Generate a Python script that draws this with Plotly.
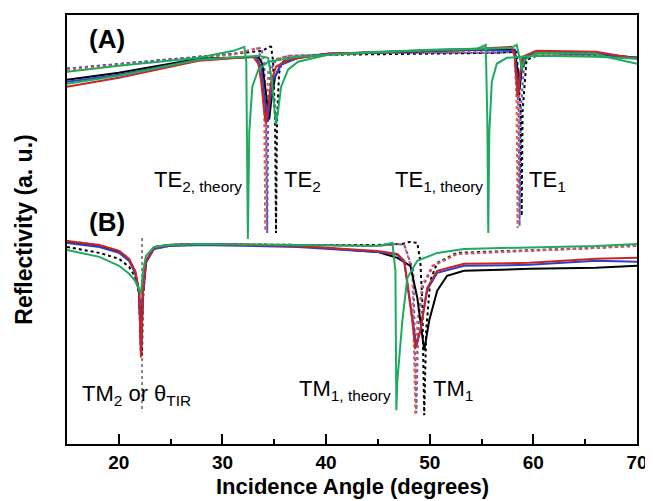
import plotly.graph_objects as go

# ---------------- Panel (A): TE modes ----------------
A_GREEN_THEORY_X = [15, 20, 27.7, 31.06, 32.11, 32.30, 32.45, 32.59, 32.88, 33.46, 34.41, 37.29, 44.96, 54.55, 55.41, 55.56, 55.65, 55.75, 55.99, 56.47, 57.43, 60.30, 66.05, 70]
A_GREEN_THEORY_Y = [374, 380, 388, 395, 399, 384, 206, 314, 359, 376, 384, 389, 394, 397, 401, 324, 212, 314, 364, 382, 388, 390, 389, 387]

A_GREEN_X = [15, 20, 27.7, 33.46, 34.41, 34.79, 35.08, 35.17, 35.36, 35.66, 36.33, 37.29, 40.17, 50, 57.91, 58.38, 58.77, 58.87, 59.15, 60.30, 66.05, 67.01, 70]
A_GREEN_Y = [362, 370, 386, 390, 388, 364, 329, 321, 334, 359, 376, 384, 391, 396, 398, 401, 384, 376, 386, 393, 392, 389, 382]

A_RED_X = [15, 20, 27.7, 32.98, 33.46, 33.74, 34.03, 34.18, 34.41, 34.70, 35.17, 36.33, 40.17, 54.55, 57.91, 58.19, 58.38, 58.48, 58.67, 58.96, 60.30, 66.05, 70]
A_RED_Y = [359, 368, 385, 389, 382, 364, 334, 322, 339, 364, 379, 386, 392, 397, 399, 389, 364, 349, 369, 389, 395, 394, 387]

A_BLUE_X = [15, 20, 27.7, 33.26, 33.74, 34.13, 34.32, 34.51, 34.89, 35.66, 37.29, 40.17, 54.55, 58.19, 58.48, 58.58, 58.77, 59.15, 60.30, 66.05, 70]
A_BLUE_Y = [364, 371, 386, 389, 378, 344, 324, 339, 366, 381, 388, 392, 396, 395, 369, 354, 374, 389, 393, 392, 388]

A_BLACK_X = [15, 20, 27.7, 33.46, 33.84, 34.22, 34.51, 34.70, 35.08, 35.66, 37.29, 40.17, 54.55, 58.19, 58.58, 58.67, 58.87, 59.34, 60.30, 66.05, 70]
A_BLACK_Y = [366, 373, 387, 389, 382, 349, 326, 344, 369, 382, 388, 392, 396, 396, 369, 356, 376, 390, 393, 392, 388]

A_RED_FIT_X = [15, 20, 27.7, 31.06, 32.98, 33.26, 33.74, 34.03, 34.13, 34.22, 34.41, 34.89, 36.33, 44.96, 56.47, 57.91, 58.19, 58.38, 58.48, 58.58, 58.87, 59.63, 66.05, 70]
A_RED_FIT_Y = [376, 381, 388, 391, 397, 399, 389, 334, 214, 334, 374, 386, 390, 393, 394, 396, 394, 344, 217, 344, 386, 391, 391, 388]

A_BLUE_FIT_X = [15, 20, 27.7, 31.06, 33.26, 33.74, 34.03, 34.22, 34.32, 34.41, 34.60, 35.17, 36.33, 44.96, 56.47, 58.19, 58.58, 58.67, 58.77, 59.15, 59.63, 66.05, 70]
A_BLUE_FIT_Y = [377, 382, 389, 392, 397, 398, 384, 324, 212, 324, 374, 386, 390, 393, 393, 394, 334, 219, 334, 386, 390, 391, 388]

A_BLACK_FIT_X = [15, 20, 27.7, 31.06, 33.84, 34.51, 34.70, 34.89, 35.08, 35.17, 35.26, 35.46, 35.66, 36.33, 40.17, 56.47, 58.38, 58.77, 58.87, 58.96, 59.34, 60.30, 66.05, 70]
A_BLACK_FIT_Y = [377, 382, 389, 392, 395, 399, 399, 384, 324, 212, 324, 372, 382, 388, 391, 393, 394, 334, 229, 334, 386, 390, 390, 388]

# ---------------- Panel (B): TM modes ----------------
B_GREEN_THEORY_X = [15, 18.12, 20.03, 20.99, 21.57, 21.95, 22.14, 22.33, 22.62, 23.39, 24.83, 27.7, 37.29, 44.96, 46.40, 46.69, 46.78, 46.88, 47.36, 47.84, 48.80, 50.72, 53.30, 66.05, 70]
B_GREEN_THEORY_Y = [195, 188, 179, 171, 164, 154, 151, 174, 189, 198, 200, 201, 200, 199, 202, 174, 34, 64, 124, 167, 184, 192, 196, 199, 201]

B_RED_X = [15, 18.12, 20.03, 20.99, 21.57, 21.95, 22.14, 22.33, 22.62, 23.39, 24.83, 27.7, 37.29, 44.96, 46.88, 47.55, 48.13, 48.61, 49.09, 49.76, 50.72, 53.30, 59.63, 66.05, 70]
B_RED_Y = [204, 200, 194, 186, 174, 154, 87, 154, 184, 197, 200, 201, 199, 194, 191, 184, 141, 96, 114, 157, 174, 181, 182, 186, 187]

B_BLUE_X = [15, 18.12, 20.03, 20.99, 21.57, 21.95, 22.14, 22.33, 22.62, 23.39, 24.83, 27.7, 37.29, 44.96, 46.88, 47.55, 48.13, 48.71, 49.09, 49.76, 50.72, 53.30, 59.63, 66.05, 70]
B_BLUE_Y = [202, 198, 192, 184, 172, 152, 92, 152, 182, 196, 199, 200, 198, 193, 190, 182, 139, 99, 114, 155, 172, 179, 180, 184, 183]

B_BLACK_X = [15, 18.12, 20.03, 20.99, 21.57, 21.95, 22.14, 22.33, 22.62, 23.39, 24.83, 27.7, 37.29, 44.96, 46.88, 48.13, 48.80, 49.47, 49.95, 50.72, 51.67, 53.30, 59.63, 66.05, 70]
B_BLACK_Y = [203, 199, 193, 185, 173, 153, 104, 153, 183, 197, 200, 201, 199, 193, 187, 179, 147, 94, 124, 154, 169, 174, 176, 177, 179]

B_RED_FIT_X = [15, 18.12, 20.03, 20.99, 21.57, 21.95, 22.14, 22.33, 22.62, 23.39, 24.83, 27.7, 37.29, 44.96, 46.88, 47.55, 48.32, 48.61, 48.80, 49.28, 50.24, 52.63, 66.05, 70]
B_RED_FIT_Y = [204, 200, 194, 186, 174, 152, 87, 152, 184, 197, 200, 201, 200, 199, 201, 200, 174, 29, 124, 159, 179, 191, 197, 199]

B_BLUE_FIT_X = [15, 18.12, 20.03, 20.99, 21.57, 21.95, 22.14, 22.33, 22.62, 23.39, 24.83, 27.7, 37.29, 44.96, 46.88, 47.55, 48.42, 48.71, 48.90, 49.38, 50.34, 52.63, 66.05, 70]
B_BLUE_FIT_Y = [203, 199, 193, 185, 173, 151, 90, 151, 183, 196, 199, 200, 200, 199, 201, 200, 174, 31, 124, 159, 179, 191, 197, 199]

B_BLACK_FIT_X = [15, 18.12, 20.03, 20.99, 21.57, 21.95, 22.14, 22.24, 22.33, 22.62, 23.39, 24.83, 27.7, 37.29, 44.96, 47.36, 48.03, 48.80, 49.09, 49.28, 49.47, 49.66, 50.05, 50.72, 52.63, 66.05, 70]
B_BLACK_FIT_Y = [198, 192, 186, 178, 168, 152, 114, 89, 144, 184, 198, 200, 201, 200, 200, 201, 203, 202, 184, 144, 29, 114, 164, 182, 192, 197, 200]

# critical angle marker
THETA_TIR = [22.24, 22.24]
THETA_TIR_Y = [207, 32]

RED = "rgb(205,35,35)"
BLUE = "rgb(45,65,200)"
BLACK = "rgb(0,0,0)"
GREEN = "rgb(30,170,95)"
RED_DOT = "rgb(225,90,80)"
BLUE_DOT = "rgb(80,90,200)"

fig = go.Figure()

def add(x, y, color, dash="solid", width=2):
    fig.add_trace(go.Scatter(x=x, y=y, mode="lines", showlegend=False, hoverinfo="skip",
                             line=dict(color=color, width=width, dash=dash)))

add(THETA_TIR, THETA_TIR_Y, "rgb(60,60,60)", "dot", 1.2)
# dotted fits
add(A_BLACK_FIT_X, A_BLACK_FIT_Y, BLACK, "dot")
add(A_BLUE_FIT_X, A_BLUE_FIT_Y, BLUE_DOT, "dot")
add(A_RED_FIT_X, A_RED_FIT_Y, RED_DOT, "dot")
add(B_BLACK_FIT_X, B_BLACK_FIT_Y, BLACK, "dot")
add(B_BLUE_FIT_X, B_BLUE_FIT_Y, BLUE_DOT, "dot")
add(B_RED_FIT_X, B_RED_FIT_Y, RED_DOT, "dot")
# solid experimental
add(A_BLACK_X, A_BLACK_Y, BLACK)
add(A_BLUE_X, A_BLUE_Y, BLUE)
add(A_RED_X, A_RED_Y, RED)
add(A_GREEN_X, A_GREEN_Y, GREEN)
add(B_BLACK_X, B_BLACK_Y, BLACK)
add(B_BLUE_X, B_BLUE_Y, BLUE)
add(B_RED_X, B_RED_Y, RED)
# green theory
add(A_GREEN_THEORY_X, A_GREEN_THEORY_Y, GREEN)
add(B_GREEN_THEORY_X, B_GREEN_THEORY_Y, GREEN)

FONT = "Arial, Liberation Sans, Helvetica, sans-serif"

def label(x, y, text, xanchor="left", size=22, bold=False):
    if bold:
        text = "<b>" + text + "</b>"
    fig.add_annotation(x=x, y=y, xref="x", yref="y", text=text, showarrow=False,
                       xanchor=xanchor, yanchor="middle",
                       font=dict(family=FONT, size=size, color="black"))

label(18.9, 407, "(A)", xanchor="center", size=26, bold=True)
label(18.9, 223, "(B)", xanchor="center", size=26, bold=True)
label(32.1, 264, "TE<sub>2, theory</sub>", xanchor="right")
label(35.75, 264, "TE<sub>2</sub>")
label(55.3, 264, "TE<sub>1, theory</sub>", xanchor="right")
label(59.4, 264, "TE<sub>1</sub>")
label(16.3, 49, "TM<sub>2</sub> or θ<sub>TIR</sub>")
label(46.5, 54, "TM<sub>1, theory</sub>", xanchor="right")
label(50.1, 54, "TM<sub>1</sub>")

# x-axis title as a paper-anchored annotation
fig.add_annotation(x=0.5, y=-0.099, xref="paper", yref="paper", showarrow=False,
                   xanchor="center", yanchor="middle",
                   text="<b>Incidence Angle (degrees)</b>",
                   font=dict(family=FONT, size=22, color="black"))

# the page body adds an 8px offset, so the figure is sized to fit the 653x501 window
fig.update_layout(
    width=645, height=493,
    margin=dict(l=59, r=12, t=5, b=57),
    paper_bgcolor="white", plot_bgcolor="white",
    font=dict(family=FONT, color="black"),
    xaxis=dict(
        range=[15, 70], tickmode="array", tickvals=[20, 30, 40, 50, 60, 70],
        ticktext=["<b>20</b>", "<b>30</b>", "<b>40</b>", "<b>50</b>", "<b>60</b>", "<b>70</b>"],
        ticks="inside", ticklen=10, tickwidth=2, tickcolor="black",
        minor=dict(tickvals=[25, 35, 45, 55, 65], ticks="inside", ticklen=5, tickwidth=2, tickcolor="black"),
        showline=True, linecolor="black", linewidth=2, mirror=True,
        showgrid=False, zeroline=False,
        tickfont=dict(size=19, family=FONT),
    ),
    yaxis=dict(
        range=[0, 431], showticklabels=False, ticks="",
        showline=True, linecolor="black", linewidth=2, mirror=True,
        showgrid=False, zeroline=False,
        title=dict(text="<b>Reflectivity (a. u.)</b>", font=dict(size=23, family=FONT), standoff=26),
    ),
)

fig.write_html("out.html")
